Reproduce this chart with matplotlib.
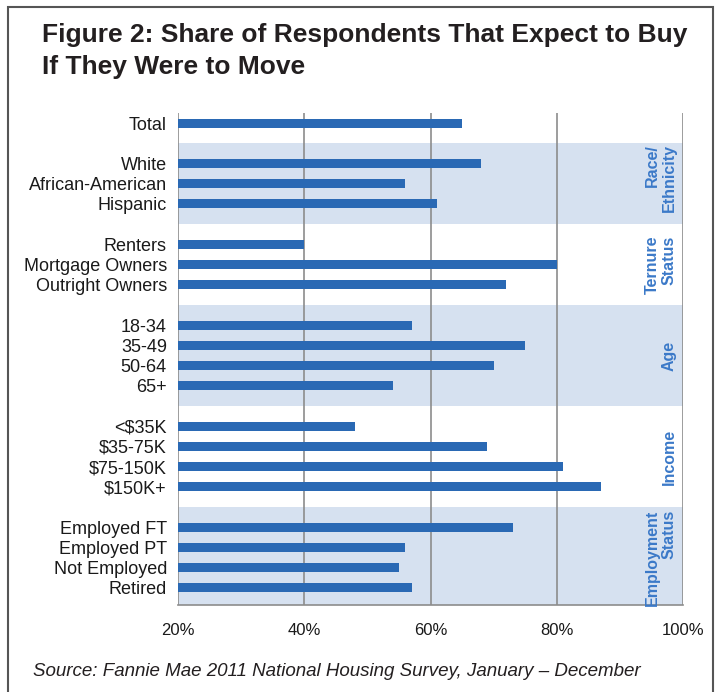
import numpy as np
import matplotlib
matplotlib.use('Agg')
import matplotlib.pyplot as plt
from matplotlib.patches import Rectangle

#Data
groups = ['', 'Race/\nEthnicity', 'Ternure\nStatus', 'Age', 'Income', 'Employment\nStatus']
labels = [
    ['Total'],
    ['White', 'African-American', 'Hispanic'],
    ['Renters', 'Mortgage Owners', 'Outright Owners'],
    ['18-34', '35-49', '50-64', '65+'],
    ['<$35K', '$35-75K', '$75-150K', '$150K+'],
    ['Employed FT', 'Employed PT', 'Not Employed', 'Retired'],
]
values = [
    [65],
    [68, 56, 61],
    [40, 80, 72],
    [57, 75, 70, 54],
    [48, 69, 81, 87],
    [73, 56, 55, 57],
]
shaded = [False, True, False, True, False, True]
xticks = [20, 40, 60, 80, 100]

bar_color = '#2a69b4'
band_color = '#d6e1f0'
grp_color = '#3b79c8'
grid_color = '#8c8c8c'

plt.rcParams['font.family'] = ['Liberation Sans', 'DejaVu Sans']

fig = plt.figure(figsize=(7.17, 6.92), dpi=100)
ax = fig.add_axes([178/717, 1-605/692, 505/717, 492/692])

#Positions: one empty slot between groups
pos = []
ylabs = []
vals = []
band_rng = []
y = 0
for gi, g in enumerate(labels):
    if gi > 0:
        y += 1
    start = y - 1
    for lab, v in zip(g, values[gi]):
        pos.append(y)
        ylabs.append(lab)
        vals.append(v)
        y += 1
    band_rng.append((start, y))

ax.set_xlim(20, 100)
ax.set_ylim(23.85, -0.5)

for gi, (a, b) in enumerate(band_rng):
    if shaded[gi]:
        ax.axhspan(a, b, color=band_color, zorder=0, lw=0)
    if groups[gi]:
        yc = (a + b) / 2
        if gi == 1:
            yc -= 0.3
        ax.text(0.988, yc, groups[gi], transform=ax.get_yaxis_transform(),
                rotation=90, ha='right', va='center', fontsize=11.5,
                fontweight='bold', color=grp_color, linespacing=1.15)

for xv in xticks:
    ax.axvline(xv, color=grid_color, lw=1.2, zorder=1)

ax.barh(pos, [v - 20 for v in vals], left=20, height=0.45, color=bar_color, zorder=2)

ax.set_yticks(pos)
ax.set_yticklabels(ylabs, fontsize=13, color='#1a1a1a')
ax.set_xticks(xticks)
ax.set_xticklabels(['%d%%' % t for t in xticks], fontsize=12, color='#1a1a1a')
ax.tick_params(axis='y', length=0, pad=8)
ax.tick_params(axis='x', length=0, pad=13)
for s in ['top', 'right', 'left']:
    ax.spines[s].set_visible(False)
ax.spines['bottom'].set_color(grid_color)
ax.spines['bottom'].set_linewidth(1.2)

#Title and source
fig.text(42/717, 1-42/692, 'Figure 2: Share of Respondents That Expect to Buy',
         fontsize=19, fontweight='bold', color='#231f20', va='baseline')
fig.text(42/717, 1-74/692, 'If They Were to Move',
         fontsize=19, fontweight='bold', color='#231f20', va='baseline')
fig.text(33/717, 1-671/692, 'Source: Fannie Mae 2011 National Housing Survey, January \u2013 December',
         fontsize=13.5, style='italic', color='#231f20', va='center')

#Outer frame
fig.patches.append(Rectangle((8/717, -0.05), 705/717, 1.05 - 7/692, transform=fig.transFigure,
                             fill=False, edgecolor='#555555', lw=1.5))

fig.savefig('out.png', dpi=100)
